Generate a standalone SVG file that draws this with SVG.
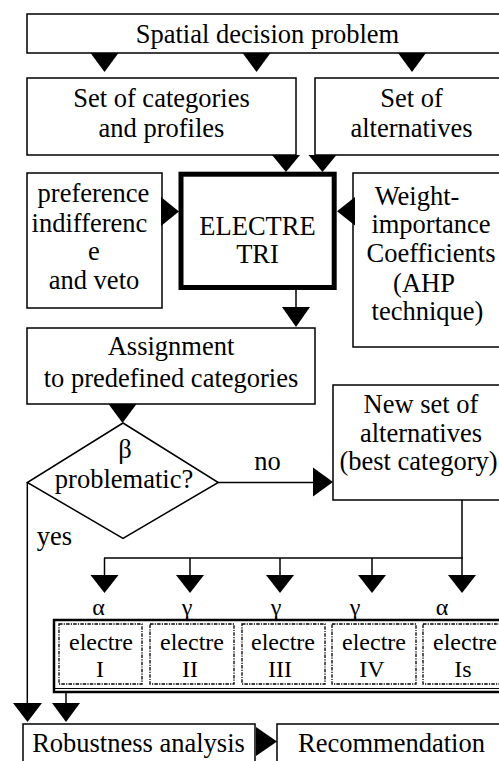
<svg xmlns="http://www.w3.org/2000/svg" width="499" height="761" viewBox="0 0 499 761" font-family="'Liberation Serif', Tinos, 'Times New Roman', 'DejaVu Serif', serif">
<style>
.b{fill:#fff;stroke:#000;stroke-width:1.5}
.k{fill:none;stroke:#000;stroke-width:5}
.f{fill:none;stroke:#000;stroke-width:2.5}
.d{fill:none;stroke:#000;stroke-width:1.3;stroke-dasharray:3.5 1.2 1.2 1.2}
.l{fill:none;stroke:#000;stroke-width:1.5}
.a{fill:#000;stroke:none}
text{font-family:'Liberation Serif', Tinos, 'Times New Roman', 'DejaVu Serif', serif;font-size:26.5px;fill:#000;text-anchor:middle}
.s{font-size:24px}
</style>
<rect width="499" height="761" fill="#fff"/>
<g id="spatial">
<rect class="b" x="27" y="14" width="490" height="39"/>
<text x="267.5" y="43">Spatial decision problem</text>
</g>
<g id="categories">
<rect class="b" x="27" y="78" width="269" height="77"/>
<text x="161.5" y="107">Set of categories</text>
<text x="161.5" y="137">and profiles</text>
</g>
<g id="alternatives">
<rect class="b" x="315" y="78" width="200" height="77"/>
<text x="411.5" y="107">Set of</text>
<text x="411.5" y="137">alternatives</text>
</g>
<g id="preference">
<rect class="b" x="27" y="173" width="135" height="135"/>
<text x="93.5" y="202">preference</text>
<text x="89.5" y="231.5">indifferenc</text>
<text x="94" y="260">e</text>
<text x="94" y="289">and veto</text>
</g>
<g id="electretri">
<rect class="k" x="181" y="174.2" width="153.2" height="113.3"/>
<text x="257.5" y="235">ELECTRE</text>
<text x="257.5" y="263">TRI</text>
</g>
<g id="weight">
<rect class="b" x="353" y="173" width="170" height="174"/>
<text x="417" y="205">Weight-</text>
<text x="431" y="233">importance</text>
<text x="431" y="262">Coefficients</text>
<text x="424" y="292">(AHP</text>
<text x="427.5" y="320">technique)</text>
</g>
<g id="assignment">
<rect class="b" x="27" y="328" width="288" height="76"/>
<text x="171" y="355">Assignment</text>
<text x="171" y="387">to predefined categories</text>
</g>
<g id="decision">
<polygon class="b" points="123,423 218.3,482.5 123,538.3 27.3,482.5"/>
<text x="125" y="458">β</text>
<text x="124" y="488">problematic?</text>
</g>
<g id="newset">
<rect class="b" x="333" y="385" width="180" height="115"/>
<text x="421" y="413">New set of</text>
<text x="421" y="441.5">alternatives</text>
<text x="418.5" y="470">(best category)</text>
</g>
<g id="electremethods">
<rect class="f" x="54" y="620" width="460" height="72"/>
<line class="l" x1="55" y1="688.5" x2="499" y2="688.5" style="stroke-width:1.2"/>
<rect class="d" x="59" y="624" width="83" height="60"/>
<rect class="d" x="150" y="624" width="84" height="60"/>
<rect class="d" x="242" y="624" width="83" height="60"/>
<rect class="d" x="332" y="624" width="84" height="60"/>
<rect class="d" x="423" y="624" width="84" height="60"/>
<text class="s" x="101" y="650">electre</text>
<text class="s" x="100" y="677">I</text>
<text class="s" x="192" y="650">electre</text>
<text class="s" x="190" y="677">II</text>
<text class="s" x="283" y="650">electre</text>
<text class="s" x="280" y="677">III</text>
<text class="s" x="374" y="650">electre</text>
<text class="s" x="372" y="677">IV</text>
<text class="s" x="465" y="650">electre</text>
<text class="s" x="463" y="677">Is</text>
</g>
<g id="robustness">
<rect class="b" x="23" y="724" width="232" height="60"/>
<text x="138.5" y="752">Robustness analysis</text>
</g>
<g id="recommendation">
<rect class="b" x="277" y="724" width="240" height="60"/>
<text x="391.5" y="752">Recommendation</text>
</g>
<g id="connectors">
<polygon class="a" points="90.5,53 118.5,53 104.5,72"/>
<polygon class="a" points="242.5,53 270.5,53 256.5,72"/>
<polygon class="a" points="398,53 426,53 412,72"/>
<polygon class="a" points="272,155 300,155 286,172"/>
<polygon class="a" points="308.5,155 336.5,155 322.5,172"/>
<polygon class="a" points="161,197 161,226 179,211.5"/>
<polygon class="a" points="355,197 355,225.5 337,211.2"/>
<line class="l" x1="296" y1="290" x2="296" y2="308"/>
<polygon class="a" points="282,307 310,307 296,327"/>
<polygon class="a" points="108.5,404 136.5,404 122.5,423"/>
<line class="l" x1="218.3" y1="482.5" x2="314" y2="482.5"/>
<polygon class="a" points="313,467.5 313,496.5 333,482"/>
<text x="267.5" y="470">no</text>
<text x="54.5" y="545">yes</text>
<polyline class="l" points="462,500 462,576"/>
<line class="l" x1="104" y1="558" x2="462.75" y2="558"/>
<line class="l" x1="104.5" y1="558" x2="104.5" y2="576"/>
<line class="l" x1="190" y1="558" x2="190" y2="576"/>
<line class="l" x1="280" y1="558" x2="280" y2="576"/>
<line class="l" x1="372" y1="558" x2="372" y2="576"/>
<polygon class="a" points="90.5,575 118.5,575 104.5,593"/>
<polygon class="a" points="176,575 204,575 190,593"/>
<polygon class="a" points="266,575 294,575 280,593"/>
<polygon class="a" points="358,575 386,575 372,593"/>
<polygon class="a" points="448,575 476,575 462,593"/>
<text class="s" x="98.5" y="615">α</text>
<text class="s" x="187" y="615">γ</text>
<text class="s" x="276" y="615">γ</text>
<text class="s" x="355" y="615">γ</text>
<text class="s" x="442" y="615">α</text>
<line class="l" x1="27.3" y1="482.5" x2="27.3" y2="704"/>
<polygon class="a" points="13,703 42,703 27.5,722"/>
<line class="l" x1="66" y1="693" x2="66" y2="704"/>
<polygon class="a" points="52,703 80,703 66,722"/>
<polygon class="a" points="256,727 256,756 277,741.5"/>
</g>
</svg>
